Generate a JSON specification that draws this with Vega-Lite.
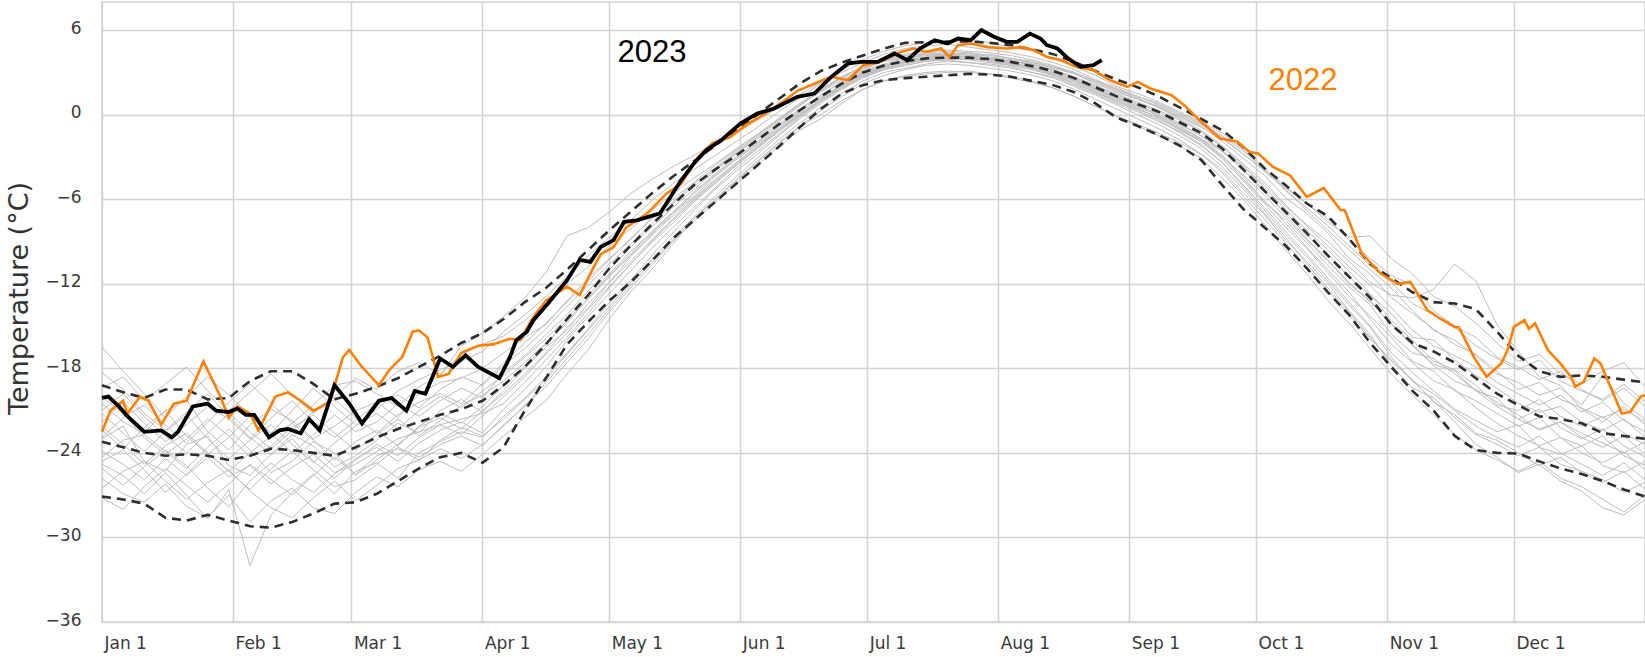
{
"$schema": "https://vega.github.io/schema/vega-lite/v6.json",
"width": 1543,
"height": 620,
"autosize": {"type": "none"},
"padding": {"left": 102, "right": 0, "top": 2, "bottom": 35},
"background": "white",
"config": {
 "view": {"stroke": "#cfcfcf", "strokeWidth": 1.5},
 "axis": {"gridColor": "#d3d3d3", "gridWidth": 1.5, "domain": false, "ticks": false, "labelFont": "DejaVu Sans", "labelFontSize": 17, "labelColor": "#3a3a3a"}
},
"datasets": {
"grey": [
{"s":"g1","d":0,"v":-20.5},{"s":"g1","d":5,"v":-21.8},{"s":"g1","d":10,"v":-22.6},{"s":"g1","d":15,"v":-21.0},{"s":"g1","d":20,"v":-20.2},{"s":"g1","d":25,"v":-22.5},{"s":"g1","d":30,"v":-23.8},{"s":"g1","d":35,"v":-22.0},{"s":"g1","d":40,"v":-20.9},{"s":"g1","d":45,"v":-21.7},{"s":"g1","d":50,"v":-23.0},{"s":"g1","d":55,"v":-22.1},{"s":"g1","d":60,"v":-21.0},{"s":"g1","d":65,"v":-20.4},{"s":"g1","d":70,"v":-21.5},{"s":"g1","d":75,"v":-19.8},{"s":"g1","d":80,"v":-19.0},{"s":"g1","d":85,"v":-18.7},{"s":"g1","d":90,"v":-18.0},{"s":"g1","d":95,"v":-16.9},{"s":"g1","d":100,"v":-15.8},{"s":"g1","d":105,"v":-14.9},{"s":"g1","d":110,"v":-13.2},{"s":"g1","d":115,"v":-11.6},{"s":"g1","d":120,"v":-10.2},{"s":"g1","d":125,"v":-8.9},{"s":"g1","d":130,"v":-7.3},{"s":"g1","d":135,"v":-6.2},{"s":"g1","d":140,"v":-4.9},{"s":"g1","d":145,"v":-3.8},{"s":"g1","d":150,"v":-2.6},{"s":"g1","d":155,"v":-1.5},{"s":"g1","d":160,"v":-0.4},{"s":"g1","d":165,"v":0.7},{"s":"g1","d":170,"v":1.6},{"s":"g1","d":175,"v":2.5},{"s":"g1","d":180,"v":3.2},{"s":"g1","d":185,"v":3.8},{"s":"g1","d":190,"v":4.0},{"s":"g1","d":195,"v":4.3},{"s":"g1","d":200,"v":4.2},{"s":"g1","d":205,"v":4.4},{"s":"g1","d":210,"v":4.1},{"s":"g1","d":215,"v":3.9},{"s":"g1","d":220,"v":3.7},{"s":"g1","d":225,"v":3.3},{"s":"g1","d":230,"v":2.9},{"s":"g1","d":235,"v":2.2},{"s":"g1","d":240,"v":1.6},{"s":"g1","d":245,"v":1.1},{"s":"g1","d":250,"v":0.6},{"s":"g1","d":255,"v":-0.1},{"s":"g1","d":260,"v":-0.8},{"s":"g1","d":265,"v":-1.9},{"s":"g1","d":270,"v":-3.1},{"s":"g1","d":275,"v":-4.3},{"s":"g1","d":280,"v":-5.9},{"s":"g1","d":285,"v":-7.0},{"s":"g1","d":290,"v":-8.4},{"s":"g1","d":295,"v":-10.2},{"s":"g1","d":300,"v":-11.3},{"s":"g1","d":305,"v":-13.0},{"s":"g1","d":310,"v":-14.1},{"s":"g1","d":315,"v":-15.2},{"s":"g1","d":320,"v":-16.3},{"s":"g1","d":325,"v":-17.0},{"s":"g1","d":330,"v":-18.2},{"s":"g1","d":335,"v":-19.5},{"s":"g1","d":340,"v":-19.0},{"s":"g1","d":345,"v":-20.2},{"s":"g1","d":350,"v":-20.8},{"s":"g1","d":355,"v":-21.5},{"s":"g1","d":360,"v":-20.9},{"s":"g1","d":365,"v":-21.8},
{"s":"g2","d":0,"v":-25.8},{"s":"g2","d":5,"v":-26.9},{"s":"g2","d":10,"v":-27.5},{"s":"g2","d":15,"v":-26.2},{"s":"g2","d":20,"v":-27.8},{"s":"g2","d":25,"v":-28.6},{"s":"g2","d":30,"v":-27.0},{"s":"g2","d":35,"v":-28.9},{"s":"g2","d":40,"v":-27.4},{"s":"g2","d":45,"v":-26.5},{"s":"g2","d":50,"v":-27.9},{"s":"g2","d":55,"v":-28.3},{"s":"g2","d":60,"v":-26.8},{"s":"g2","d":65,"v":-25.7},{"s":"g2","d":70,"v":-26.4},{"s":"g2","d":75,"v":-25.2},{"s":"g2","d":80,"v":-24.6},{"s":"g2","d":85,"v":-25.3},{"s":"g2","d":90,"v":-24.1},{"s":"g2","d":95,"v":-22.8},{"s":"g2","d":100,"v":-21.5},{"s":"g2","d":105,"v":-20.3},{"s":"g2","d":110,"v":-18.4},{"s":"g2","d":115,"v":-16.7},{"s":"g2","d":120,"v":-14.5},{"s":"g2","d":125,"v":-12.6},{"s":"g2","d":130,"v":-11.0},{"s":"g2","d":135,"v":-9.2},{"s":"g2","d":140,"v":-7.4},{"s":"g2","d":145,"v":-6.0},{"s":"g2","d":150,"v":-4.6},{"s":"g2","d":155,"v":-3.3},{"s":"g2","d":160,"v":-2.0},{"s":"g2","d":165,"v":-0.8},{"s":"g2","d":170,"v":0.0},{"s":"g2","d":175,"v":1.0},{"s":"g2","d":180,"v":1.8},{"s":"g2","d":185,"v":2.4},{"s":"g2","d":190,"v":2.8},{"s":"g2","d":195,"v":3.0},{"s":"g2","d":200,"v":3.1},{"s":"g2","d":205,"v":3.0},{"s":"g2","d":210,"v":2.9},{"s":"g2","d":215,"v":2.6},{"s":"g2","d":220,"v":2.3},{"s":"g2","d":225,"v":1.9},{"s":"g2","d":230,"v":1.3},{"s":"g2","d":235,"v":0.6},{"s":"g2","d":240,"v":-0.1},{"s":"g2","d":245,"v":-0.7},{"s":"g2","d":250,"v":-1.3},{"s":"g2","d":255,"v":-2.0},{"s":"g2","d":260,"v":-2.8},{"s":"g2","d":265,"v":-3.9},{"s":"g2","d":270,"v":-5.6},{"s":"g2","d":275,"v":-7.1},{"s":"g2","d":280,"v":-8.9},{"s":"g2","d":285,"v":-10.4},{"s":"g2","d":290,"v":-12.0},{"s":"g2","d":295,"v":-13.9},{"s":"g2","d":300,"v":-15.6},{"s":"g2","d":305,"v":-17.8},{"s":"g2","d":310,"v":-19.4},{"s":"g2","d":315,"v":-20.1},{"s":"g2","d":320,"v":-21.5},{"s":"g2","d":325,"v":-22.7},{"s":"g2","d":330,"v":-23.4},{"s":"g2","d":335,"v":-24.2},{"s":"g2","d":340,"v":-23.6},{"s":"g2","d":345,"v":-24.8},{"s":"g2","d":350,"v":-25.3},{"s":"g2","d":355,"v":-25.9},{"s":"g2","d":360,"v":-26.8},{"s":"g2","d":365,"v":-26.1},
{"s":"g3","d":0,"v":-23.0},{"s":"g3","d":5,"v":-22.1},{"s":"g3","d":10,"v":-24.6},{"s":"g3","d":15,"v":-25.3},{"s":"g3","d":20,"v":-23.4},{"s":"g3","d":25,"v":-22.8},{"s":"g3","d":30,"v":-24.9},{"s":"g3","d":35,"v":-25.6},{"s":"g3","d":40,"v":-24.1},{"s":"g3","d":45,"v":-22.7},{"s":"g3","d":50,"v":-23.5},{"s":"g3","d":55,"v":-25.0},{"s":"g3","d":60,"v":-24.2},{"s":"g3","d":65,"v":-23.1},{"s":"g3","d":70,"v":-21.9},{"s":"g3","d":75,"v":-22.6},{"s":"g3","d":80,"v":-21.0},{"s":"g3","d":85,"v":-20.2},{"s":"g3","d":90,"v":-21.1},{"s":"g3","d":95,"v":-19.6},{"s":"g3","d":100,"v":-18.0},{"s":"g3","d":105,"v":-16.5},{"s":"g3","d":110,"v":-15.3},{"s":"g3","d":115,"v":-13.4},{"s":"g3","d":120,"v":-11.9},{"s":"g3","d":125,"v":-10.1},{"s":"g3","d":130,"v":-8.6},{"s":"g3","d":135,"v":-7.0},{"s":"g3","d":140,"v":-5.8},{"s":"g3","d":145,"v":-4.4},{"s":"g3","d":150,"v":-3.2},{"s":"g3","d":155,"v":-2.1},{"s":"g3","d":160,"v":-1.0},{"s":"g3","d":165,"v":0.1},{"s":"g3","d":170,"v":1.0},{"s":"g3","d":175,"v":2.0},{"s":"g3","d":180,"v":2.8},{"s":"g3","d":185,"v":3.3},{"s":"g3","d":190,"v":3.7},{"s":"g3","d":195,"v":3.9},{"s":"g3","d":200,"v":4.1},{"s":"g3","d":205,"v":4.0},{"s":"g3","d":210,"v":3.8},{"s":"g3","d":215,"v":3.6},{"s":"g3","d":220,"v":3.3},{"s":"g3","d":225,"v":2.9},{"s":"g3","d":230,"v":2.4},{"s":"g3","d":235,"v":1.7},{"s":"g3","d":240,"v":1.0},{"s":"g3","d":245,"v":0.4},{"s":"g3","d":250,"v":-0.2},{"s":"g3","d":255,"v":-1.0},{"s":"g3","d":260,"v":-1.8},{"s":"g3","d":265,"v":-2.9},{"s":"g3","d":270,"v":-4.4},{"s":"g3","d":275,"v":-6.2},{"s":"g3","d":280,"v":-7.5},{"s":"g3","d":285,"v":-9.1},{"s":"g3","d":290,"v":-10.7},{"s":"g3","d":295,"v":-12.2},{"s":"g3","d":300,"v":-13.5},{"s":"g3","d":305,"v":-15.6},{"s":"g3","d":310,"v":-16.9},{"s":"g3","d":315,"v":-17.3},{"s":"g3","d":320,"v":-18.4},{"s":"g3","d":325,"v":-19.6},{"s":"g3","d":330,"v":-20.1},{"s":"g3","d":335,"v":-21.6},{"s":"g3","d":340,"v":-22.3},{"s":"g3","d":345,"v":-21.8},{"s":"g3","d":350,"v":-22.9},{"s":"g3","d":355,"v":-23.6},{"s":"g3","d":360,"v":-22.8},{"s":"g3","d":365,"v":-24.1},
{"s":"g4","d":0,"v":-16.5},{"s":"g4","d":5,"v":-18.2},{"s":"g4","d":10,"v":-19.8},{"s":"g4","d":15,"v":-21.5},{"s":"g4","d":20,"v":-20.0},{"s":"g4","d":25,"v":-18.6},{"s":"g4","d":30,"v":-19.9},{"s":"g4","d":35,"v":-21.3},{"s":"g4","d":40,"v":-22.6},{"s":"g4","d":45,"v":-21.0},{"s":"g4","d":50,"v":-19.4},{"s":"g4","d":55,"v":-20.7},{"s":"g4","d":60,"v":-22.0},{"s":"g4","d":65,"v":-20.9},{"s":"g4","d":70,"v":-19.6},{"s":"g4","d":75,"v":-18.8},{"s":"g4","d":80,"v":-18.1},{"s":"g4","d":85,"v":-17.5},{"s":"g4","d":90,"v":-16.8},{"s":"g4","d":95,"v":-15.4},{"s":"g4","d":100,"v":-14.2},{"s":"g4","d":105,"v":-12.9},{"s":"g4","d":110,"v":-11.5},{"s":"g4","d":115,"v":-10.0},{"s":"g4","d":120,"v":-8.7},{"s":"g4","d":125,"v":-7.5},{"s":"g4","d":130,"v":-6.1},{"s":"g4","d":135,"v":-4.9},{"s":"g4","d":140,"v":-3.9},{"s":"g4","d":145,"v":-2.9},{"s":"g4","d":150,"v":-1.9},{"s":"g4","d":155,"v":-0.9},{"s":"g4","d":160,"v":0.2},{"s":"g4","d":165,"v":1.2},{"s":"g4","d":170,"v":2.2},{"s":"g4","d":175,"v":3.2},{"s":"g4","d":180,"v":3.9},{"s":"g4","d":185,"v":4.5},{"s":"g4","d":190,"v":4.9},{"s":"g4","d":195,"v":5.1},{"s":"g4","d":200,"v":5.2},{"s":"g4","d":205,"v":5.4},{"s":"g4","d":210,"v":5.1},{"s":"g4","d":215,"v":4.8},{"s":"g4","d":220,"v":4.5},{"s":"g4","d":225,"v":4.0},{"s":"g4","d":230,"v":3.4},{"s":"g4","d":235,"v":2.8},{"s":"g4","d":240,"v":2.0},{"s":"g4","d":245,"v":1.5},{"s":"g4","d":250,"v":0.9},{"s":"g4","d":255,"v":0.2},{"s":"g4","d":260,"v":-0.5},{"s":"g4","d":265,"v":-1.3},{"s":"g4","d":270,"v":-2.5},{"s":"g4","d":275,"v":-3.8},{"s":"g4","d":280,"v":-5.1},{"s":"g4","d":285,"v":-6.3},{"s":"g4","d":290,"v":-7.6},{"s":"g4","d":295,"v":-8.7},{"s":"g4","d":300,"v":-8.6},{"s":"g4","d":305,"v":-10.2},{"s":"g4","d":310,"v":-11.3},{"s":"g4","d":315,"v":-12.9},{"s":"g4","d":320,"v":-13.6},{"s":"g4","d":325,"v":-14.8},{"s":"g4","d":330,"v":-16.2},{"s":"g4","d":335,"v":-17.5},{"s":"g4","d":340,"v":-17.0},{"s":"g4","d":345,"v":-18.4},{"s":"g4","d":350,"v":-19.1},{"s":"g4","d":355,"v":-18.2},{"s":"g4","d":360,"v":-17.6},{"s":"g4","d":365,"v":-19.3},
{"s":"g5","d":0,"v":-24.8},{"s":"g5","d":5,"v":-25.6},{"s":"g5","d":10,"v":-26.9},{"s":"g5","d":15,"v":-25.4},{"s":"g5","d":20,"v":-27.0},{"s":"g5","d":25,"v":-28.7},{"s":"g5","d":30,"v":-26.6},{"s":"g5","d":35,"v":-32.0},{"s":"g5","d":40,"v":-28.4},{"s":"g5","d":45,"v":-26.8},{"s":"g5","d":50,"v":-25.5},{"s":"g5","d":55,"v":-26.9},{"s":"g5","d":60,"v":-25.3},{"s":"g5","d":65,"v":-24.7},{"s":"g5","d":70,"v":-25.8},{"s":"g5","d":75,"v":-24.0},{"s":"g5","d":80,"v":-23.2},{"s":"g5","d":85,"v":-22.5},{"s":"g5","d":90,"v":-22.9},{"s":"g5","d":95,"v":-21.4},{"s":"g5","d":100,"v":-20.1},{"s":"g5","d":105,"v":-18.6},{"s":"g5","d":110,"v":-16.9},{"s":"g5","d":115,"v":-15.2},{"s":"g5","d":120,"v":-13.3},{"s":"g5","d":125,"v":-11.8},{"s":"g5","d":130,"v":-10.0},{"s":"g5","d":135,"v":-8.4},{"s":"g5","d":140,"v":-6.8},{"s":"g5","d":145,"v":-5.3},{"s":"g5","d":150,"v":-4.0},{"s":"g5","d":155,"v":-2.8},{"s":"g5","d":160,"v":-1.5},{"s":"g5","d":165,"v":-0.3},{"s":"g5","d":170,"v":0.8},{"s":"g5","d":175,"v":1.8},{"s":"g5","d":180,"v":2.6},{"s":"g5","d":185,"v":3.2},{"s":"g5","d":190,"v":3.5},{"s":"g5","d":195,"v":3.8},{"s":"g5","d":200,"v":3.9},{"s":"g5","d":205,"v":3.7},{"s":"g5","d":210,"v":3.6},{"s":"g5","d":215,"v":3.4},{"s":"g5","d":220,"v":3.0},{"s":"g5","d":225,"v":2.7},{"s":"g5","d":230,"v":2.1},{"s":"g5","d":235,"v":1.5},{"s":"g5","d":240,"v":0.8},{"s":"g5","d":245,"v":0.2},{"s":"g5","d":250,"v":-0.5},{"s":"g5","d":255,"v":-1.2},{"s":"g5","d":260,"v":-2.1},{"s":"g5","d":265,"v":-3.4},{"s":"g5","d":270,"v":-5.0},{"s":"g5","d":275,"v":-6.6},{"s":"g5","d":280,"v":-8.3},{"s":"g5","d":285,"v":-9.9},{"s":"g5","d":290,"v":-11.6},{"s":"g5","d":295,"v":-13.3},{"s":"g5","d":300,"v":-15.0},{"s":"g5","d":305,"v":-16.9},{"s":"g5","d":310,"v":-18.3},{"s":"g5","d":315,"v":-19.6},{"s":"g5","d":320,"v":-20.9},{"s":"g5","d":325,"v":-21.7},{"s":"g5","d":330,"v":-22.5},{"s":"g5","d":335,"v":-22.0},{"s":"g5","d":340,"v":-23.6},{"s":"g5","d":345,"v":-24.1},{"s":"g5","d":350,"v":-23.5},{"s":"g5","d":355,"v":-24.9},{"s":"g5","d":360,"v":-25.4},{"s":"g5","d":365,"v":-24.6},
{"s":"g6","d":0,"v":-21.8},{"s":"g6","d":5,"v":-20.4},{"s":"g6","d":10,"v":-21.9},{"s":"g6","d":15,"v":-23.2},{"s":"g6","d":20,"v":-22.0},{"s":"g6","d":25,"v":-20.7},{"s":"g6","d":30,"v":-21.6},{"s":"g6","d":35,"v":-23.0},{"s":"g6","d":40,"v":-21.5},{"s":"g6","d":45,"v":-20.3},{"s":"g6","d":50,"v":-21.8},{"s":"g6","d":55,"v":-22.9},{"s":"g6","d":60,"v":-21.7},{"s":"g6","d":65,"v":-20.5},{"s":"g6","d":70,"v":-19.9},{"s":"g6","d":75,"v":-20.8},{"s":"g6","d":80,"v":-19.5},{"s":"g6","d":85,"v":-18.6},{"s":"g6","d":90,"v":-19.2},{"s":"g6","d":95,"v":-17.8},{"s":"g6","d":100,"v":-16.6},{"s":"g6","d":105,"v":-15.2},{"s":"g6","d":110,"v":-13.6},{"s":"g6","d":115,"v":-12.1},{"s":"g6","d":120,"v":-10.6},{"s":"g6","d":125,"v":-9.2},{"s":"g6","d":130,"v":-7.8},{"s":"g6","d":135,"v":-6.3},{"s":"g6","d":140,"v":-5.1},{"s":"g6","d":145,"v":-3.9},{"s":"g6","d":150,"v":-2.7},{"s":"g6","d":155,"v":-1.6},{"s":"g6","d":160,"v":-0.5},{"s":"g6","d":165,"v":0.6},{"s":"g6","d":170,"v":1.7},{"s":"g6","d":175,"v":2.7},{"s":"g6","d":180,"v":3.4},{"s":"g6","d":185,"v":3.9},{"s":"g6","d":190,"v":4.2},{"s":"g6","d":195,"v":4.3},{"s":"g6","d":200,"v":4.4},{"s":"g6","d":205,"v":4.2},{"s":"g6","d":210,"v":4.3},{"s":"g6","d":215,"v":4.0},{"s":"g6","d":220,"v":3.8},{"s":"g6","d":225,"v":3.4},{"s":"g6","d":230,"v":3.0},{"s":"g6","d":235,"v":2.4},{"s":"g6","d":240,"v":1.8},{"s":"g6","d":245,"v":1.2},{"s":"g6","d":250,"v":0.5},{"s":"g6","d":255,"v":-0.3},{"s":"g6","d":260,"v":-1.1},{"s":"g6","d":265,"v":-2.2},{"s":"g6","d":270,"v":-3.5},{"s":"g6","d":275,"v":-4.8},{"s":"g6","d":280,"v":-6.4},{"s":"g6","d":285,"v":-7.9},{"s":"g6","d":290,"v":-9.3},{"s":"g6","d":295,"v":-10.8},{"s":"g6","d":300,"v":-12.1},{"s":"g6","d":305,"v":-13.7},{"s":"g6","d":310,"v":-15.3},{"s":"g6","d":315,"v":-16.4},{"s":"g6","d":320,"v":-17.1},{"s":"g6","d":325,"v":-17.9},{"s":"g6","d":330,"v":-19.0},{"s":"g6","d":335,"v":-19.8},{"s":"g6","d":340,"v":-20.6},{"s":"g6","d":345,"v":-19.9},{"s":"g6","d":350,"v":-21.1},{"s":"g6","d":355,"v":-20.4},{"s":"g6","d":360,"v":-21.7},{"s":"g6","d":365,"v":-22.5},
{"s":"g7","d":0,"v":-26.5},{"s":"g7","d":5,"v":-25.3},{"s":"g7","d":10,"v":-24.6},{"s":"g7","d":15,"v":-26.0},{"s":"g7","d":20,"v":-27.3},{"s":"g7","d":25,"v":-26.1},{"s":"g7","d":30,"v":-25.2},{"s":"g7","d":35,"v":-26.7},{"s":"g7","d":40,"v":-27.9},{"s":"g7","d":45,"v":-28.6},{"s":"g7","d":50,"v":-27.2},{"s":"g7","d":55,"v":-26.0},{"s":"g7","d":60,"v":-27.4},{"s":"g7","d":65,"v":-26.3},{"s":"g7","d":70,"v":-25.1},{"s":"g7","d":75,"v":-24.5},{"s":"g7","d":80,"v":-23.7},{"s":"g7","d":85,"v":-24.4},{"s":"g7","d":90,"v":-23.4},{"s":"g7","d":95,"v":-22.1},{"s":"g7","d":100,"v":-20.6},{"s":"g7","d":105,"v":-19.3},{"s":"g7","d":110,"v":-17.6},{"s":"g7","d":115,"v":-15.9},{"s":"g7","d":120,"v":-14.0},{"s":"g7","d":125,"v":-12.3},{"s":"g7","d":130,"v":-10.7},{"s":"g7","d":135,"v":-9.0},{"s":"g7","d":140,"v":-7.6},{"s":"g7","d":145,"v":-6.2},{"s":"g7","d":150,"v":-4.9},{"s":"g7","d":155,"v":-3.6},{"s":"g7","d":160,"v":-2.3},{"s":"g7","d":165,"v":-1.1},{"s":"g7","d":170,"v":-0.3},{"s":"g7","d":175,"v":0.8},{"s":"g7","d":180,"v":1.8},{"s":"g7","d":185,"v":2.4},{"s":"g7","d":190,"v":2.7},{"s":"g7","d":195,"v":2.9},{"s":"g7","d":200,"v":3.0},{"s":"g7","d":205,"v":3.1},{"s":"g7","d":210,"v":2.9},{"s":"g7","d":215,"v":2.7},{"s":"g7","d":220,"v":2.4},{"s":"g7","d":225,"v":1.9},{"s":"g7","d":230,"v":1.3},{"s":"g7","d":235,"v":0.6},{"s":"g7","d":240,"v":-0.1},{"s":"g7","d":245,"v":-0.8},{"s":"g7","d":250,"v":-1.5},{"s":"g7","d":255,"v":-2.2},{"s":"g7","d":260,"v":-3.1},{"s":"g7","d":265,"v":-4.5},{"s":"g7","d":270,"v":-6.0},{"s":"g7","d":275,"v":-7.8},{"s":"g7","d":280,"v":-9.6},{"s":"g7","d":285,"v":-11.3},{"s":"g7","d":290,"v":-13.2},{"s":"g7","d":295,"v":-14.8},{"s":"g7","d":300,"v":-16.6},{"s":"g7","d":305,"v":-18.4},{"s":"g7","d":310,"v":-19.9},{"s":"g7","d":315,"v":-21.3},{"s":"g7","d":320,"v":-22.7},{"s":"g7","d":325,"v":-23.8},{"s":"g7","d":330,"v":-24.5},{"s":"g7","d":335,"v":-25.3},{"s":"g7","d":340,"v":-24.6},{"s":"g7","d":345,"v":-25.8},{"s":"g7","d":350,"v":-26.4},{"s":"g7","d":355,"v":-27.3},{"s":"g7","d":360,"v":-28.2},{"s":"g7","d":365,"v":-27.0},
{"s":"g8","d":0,"v":-22.4},{"s":"g8","d":5,"v":-23.7},{"s":"g8","d":10,"v":-22.2},{"s":"g8","d":15,"v":-21.0},{"s":"g8","d":20,"v":-22.8},{"s":"g8","d":25,"v":-24.1},{"s":"g8","d":30,"v":-22.9},{"s":"g8","d":35,"v":-21.4},{"s":"g8","d":40,"v":-22.6},{"s":"g8","d":45,"v":-24.0},{"s":"g8","d":50,"v":-22.7},{"s":"g8","d":55,"v":-21.3},{"s":"g8","d":60,"v":-22.5},{"s":"g8","d":65,"v":-21.8},{"s":"g8","d":70,"v":-20.5},{"s":"g8","d":75,"v":-21.4},{"s":"g8","d":80,"v":-20.3},{"s":"g8","d":85,"v":-19.4},{"s":"g8","d":90,"v":-20.1},{"s":"g8","d":95,"v":-18.3},{"s":"g8","d":100,"v":-17.1},{"s":"g8","d":105,"v":-15.6},{"s":"g8","d":110,"v":-14.2},{"s":"g8","d":115,"v":-12.5},{"s":"g8","d":120,"v":-11.0},{"s":"g8","d":125,"v":-9.4},{"s":"g8","d":130,"v":-8.0},{"s":"g8","d":135,"v":-6.6},{"s":"g8","d":140,"v":-5.3},{"s":"g8","d":145,"v":-4.0},{"s":"g8","d":150,"v":-2.8},{"s":"g8","d":155,"v":-1.7},{"s":"g8","d":160,"v":-0.7},{"s":"g8","d":165,"v":0.4},{"s":"g8","d":170,"v":1.4},{"s":"g8","d":175,"v":2.3},{"s":"g8","d":180,"v":3.0},{"s":"g8","d":185,"v":3.5},{"s":"g8","d":190,"v":3.9},{"s":"g8","d":195,"v":4.1},{"s":"g8","d":200,"v":4.3},{"s":"g8","d":205,"v":4.1},{"s":"g8","d":210,"v":3.9},{"s":"g8","d":215,"v":3.8},{"s":"g8","d":220,"v":3.5},{"s":"g8","d":225,"v":3.2},{"s":"g8","d":230,"v":2.7},{"s":"g8","d":235,"v":2.1},{"s":"g8","d":240,"v":1.4},{"s":"g8","d":245,"v":0.8},{"s":"g8","d":250,"v":0.2},{"s":"g8","d":255,"v":-0.6},{"s":"g8","d":260,"v":-1.5},{"s":"g8","d":265,"v":-2.6},{"s":"g8","d":270,"v":-3.9},{"s":"g8","d":275,"v":-5.5},{"s":"g8","d":280,"v":-6.9},{"s":"g8","d":285,"v":-8.6},{"s":"g8","d":290,"v":-9.9},{"s":"g8","d":295,"v":-11.5},{"s":"g8","d":300,"v":-12.8},{"s":"g8","d":305,"v":-14.1},{"s":"g8","d":310,"v":-15.8},{"s":"g8","d":315,"v":-16.0},{"s":"g8","d":320,"v":-17.4},{"s":"g8","d":325,"v":-18.5},{"s":"g8","d":330,"v":-19.4},{"s":"g8","d":335,"v":-20.5},{"s":"g8","d":340,"v":-21.1},{"s":"g8","d":345,"v":-20.7},{"s":"g8","d":350,"v":-21.8},{"s":"g8","d":355,"v":-22.4},{"s":"g8","d":360,"v":-21.6},{"s":"g8","d":365,"v":-22.9},
{"s":"g9","d":0,"v":-25.1},{"s":"g9","d":5,"v":-26.3},{"s":"g9","d":10,"v":-25.0},{"s":"g9","d":15,"v":-23.8},{"s":"g9","d":20,"v":-24.9},{"s":"g9","d":25,"v":-26.5},{"s":"g9","d":30,"v":-27.8},{"s":"g9","d":35,"v":-26.0},{"s":"g9","d":40,"v":-24.7},{"s":"g9","d":45,"v":-25.9},{"s":"g9","d":50,"v":-26.8},{"s":"g9","d":55,"v":-25.5},{"s":"g9","d":60,"v":-24.4},{"s":"g9","d":65,"v":-23.6},{"s":"g9","d":70,"v":-24.6},{"s":"g9","d":75,"v":-23.3},{"s":"g9","d":80,"v":-22.4},{"s":"g9","d":85,"v":-21.8},{"s":"g9","d":90,"v":-22.6},{"s":"g9","d":95,"v":-20.9},{"s":"g9","d":100,"v":-19.5},{"s":"g9","d":105,"v":-17.9},{"s":"g9","d":110,"v":-16.0},{"s":"g9","d":115,"v":-14.3},{"s":"g9","d":120,"v":-12.7},{"s":"g9","d":125,"v":-11.1},{"s":"g9","d":130,"v":-9.5},{"s":"g9","d":135,"v":-8.0},{"s":"g9","d":140,"v":-6.6},{"s":"g9","d":145,"v":-5.2},{"s":"g9","d":150,"v":-3.8},{"s":"g9","d":155,"v":-2.6},{"s":"g9","d":160,"v":-1.4},{"s":"g9","d":165,"v":-0.2},{"s":"g9","d":170,"v":0.9},{"s":"g9","d":175,"v":1.9},{"s":"g9","d":180,"v":2.7},{"s":"g9","d":185,"v":3.3},{"s":"g9","d":190,"v":3.6},{"s":"g9","d":195,"v":3.9},{"s":"g9","d":200,"v":4.0},{"s":"g9","d":205,"v":4.2},{"s":"g9","d":210,"v":4.0},{"s":"g9","d":215,"v":3.8},{"s":"g9","d":220,"v":3.6},{"s":"g9","d":225,"v":3.2},{"s":"g9","d":230,"v":2.6},{"s":"g9","d":235,"v":2.0},{"s":"g9","d":240,"v":1.3},{"s":"g9","d":245,"v":0.7},{"s":"g9","d":250,"v":0.0},{"s":"g9","d":255,"v":-0.8},{"s":"g9","d":260,"v":-1.7},{"s":"g9","d":265,"v":-2.9},{"s":"g9","d":270,"v":-4.6},{"s":"g9","d":275,"v":-6.1},{"s":"g9","d":280,"v":-7.7},{"s":"g9","d":285,"v":-9.4},{"s":"g9","d":290,"v":-11.0},{"s":"g9","d":295,"v":-12.6},{"s":"g9","d":300,"v":-14.5},{"s":"g9","d":305,"v":-16.3},{"s":"g9","d":310,"v":-17.6},{"s":"g9","d":315,"v":-18.9},{"s":"g9","d":320,"v":-19.5},{"s":"g9","d":325,"v":-20.8},{"s":"g9","d":330,"v":-21.9},{"s":"g9","d":335,"v":-22.8},{"s":"g9","d":340,"v":-23.5},{"s":"g9","d":345,"v":-22.9},{"s":"g9","d":350,"v":-24.0},{"s":"g9","d":355,"v":-24.7},{"s":"g9","d":360,"v":-23.9},{"s":"g9","d":365,"v":-25.2},
{"s":"g10","d":0,"v":-21.2},{"s":"g10","d":5,"v":-22.6},{"s":"g10","d":10,"v":-23.9},{"s":"g10","d":15,"v":-22.5},{"s":"g10","d":20,"v":-21.3},{"s":"g10","d":25,"v":-23.0},{"s":"g10","d":30,"v":-24.4},{"s":"g10","d":35,"v":-23.1},{"s":"g10","d":40,"v":-22.0},{"s":"g10","d":45,"v":-23.4},{"s":"g10","d":50,"v":-24.7},{"s":"g10","d":55,"v":-23.3},{"s":"g10","d":60,"v":-22.1},{"s":"g10","d":65,"v":-21.2},{"s":"g10","d":70,"v":-22.3},{"s":"g10","d":75,"v":-21.0},{"s":"g10","d":80,"v":-20.0},{"s":"g10","d":85,"v":-20.8},{"s":"g10","d":90,"v":-19.6},{"s":"g10","d":95,"v":-18.5},{"s":"g10","d":100,"v":-17.2},{"s":"g10","d":105,"v":-15.9},{"s":"g10","d":110,"v":-14.4},{"s":"g10","d":115,"v":-12.8},{"s":"g10","d":120,"v":-11.3},{"s":"g10","d":125,"v":-9.7},{"s":"g10","d":130,"v":-8.4},{"s":"g10","d":135,"v":-7.0},{"s":"g10","d":140,"v":-5.6},{"s":"g10","d":145,"v":-4.3},{"s":"g10","d":150,"v":-3.1},{"s":"g10","d":155,"v":-2.0},{"s":"g10","d":160,"v":-0.9},{"s":"g10","d":165,"v":0.2},{"s":"g10","d":170,"v":1.2},{"s":"g10","d":175,"v":2.1},{"s":"g10","d":180,"v":2.9},{"s":"g10","d":185,"v":3.4},{"s":"g10","d":190,"v":3.8},{"s":"g10","d":195,"v":4.0},{"s":"g10","d":200,"v":4.2},{"s":"g10","d":205,"v":4.1},{"s":"g10","d":210,"v":3.9},{"s":"g10","d":215,"v":3.7},{"s":"g10","d":220,"v":3.4},{"s":"g10","d":225,"v":3.0},{"s":"g10","d":230,"v":2.5},{"s":"g10","d":235,"v":1.9},{"s":"g10","d":240,"v":1.2},{"s":"g10","d":245,"v":0.6},{"s":"g10","d":250,"v":-0.1},{"s":"g10","d":255,"v":-0.9},{"s":"g10","d":260,"v":-1.7},{"s":"g10","d":265,"v":-2.6},{"s":"g10","d":270,"v":-3.7},{"s":"g10","d":275,"v":-5.0},{"s":"g10","d":280,"v":-6.5},{"s":"g10","d":285,"v":-7.8},{"s":"g10","d":290,"v":-9.0},{"s":"g10","d":295,"v":-10.4},{"s":"g10","d":300,"v":-11.9},{"s":"g10","d":305,"v":-12.8},{"s":"g10","d":310,"v":-13.0},{"s":"g10","d":315,"v":-12.4},{"s":"g10","d":320,"v":-10.6},{"s":"g10","d":325,"v":-11.8},{"s":"g10","d":330,"v":-14.9},{"s":"g10","d":335,"v":-16.8},{"s":"g10","d":340,"v":-18.6},{"s":"g10","d":345,"v":-19.2},{"s":"g10","d":350,"v":-20.9},{"s":"g10","d":355,"v":-21.8},{"s":"g10","d":360,"v":-20.7},{"s":"g10","d":365,"v":-22.0},
{"s":"g11","d":0,"v":-23.9},{"s":"g11","d":5,"v":-24.8},{"s":"g11","d":10,"v":-25.9},{"s":"g11","d":15,"v":-24.4},{"s":"g11","d":20,"v":-25.6},{"s":"g11","d":25,"v":-24.3},{"s":"g11","d":30,"v":-25.7},{"s":"g11","d":35,"v":-24.9},{"s":"g11","d":40,"v":-26.2},{"s":"g11","d":45,"v":-25.0},{"s":"g11","d":50,"v":-24.1},{"s":"g11","d":55,"v":-25.4},{"s":"g11","d":60,"v":-24.8},{"s":"g11","d":65,"v":-23.9},{"s":"g11","d":70,"v":-23.0},{"s":"g11","d":75,"v":-22.5},{"s":"g11","d":80,"v":-22.0},{"s":"g11","d":85,"v":-21.6},{"s":"g11","d":90,"v":-21.2},{"s":"g11","d":95,"v":-20.5},{"s":"g11","d":100,"v":-19.0},{"s":"g11","d":105,"v":-17.4},{"s":"g11","d":110,"v":-15.8},{"s":"g11","d":115,"v":-14.1},{"s":"g11","d":120,"v":-12.3},{"s":"g11","d":125,"v":-10.6},{"s":"g11","d":130,"v":-9.1},{"s":"g11","d":135,"v":-7.7},{"s":"g11","d":140,"v":-6.2},{"s":"g11","d":145,"v":-4.9},{"s":"g11","d":150,"v":-3.6},{"s":"g11","d":155,"v":-2.4},{"s":"g11","d":160,"v":-1.2},{"s":"g11","d":165,"v":-0.1},{"s":"g11","d":170,"v":1.0},{"s":"g11","d":175,"v":1.9},{"s":"g11","d":180,"v":2.7},{"s":"g11","d":185,"v":3.2},{"s":"g11","d":190,"v":3.5},{"s":"g11","d":195,"v":3.8},{"s":"g11","d":200,"v":3.9},{"s":"g11","d":205,"v":4.0},{"s":"g11","d":210,"v":3.8},{"s":"g11","d":215,"v":3.5},{"s":"g11","d":220,"v":3.2},{"s":"g11","d":225,"v":2.8},{"s":"g11","d":230,"v":2.3},{"s":"g11","d":235,"v":1.6},{"s":"g11","d":240,"v":0.9},{"s":"g11","d":245,"v":0.3},{"s":"g11","d":250,"v":-0.4},{"s":"g11","d":255,"v":-1.3},{"s":"g11","d":260,"v":-2.2},{"s":"g11","d":265,"v":-3.4},{"s":"g11","d":270,"v":-5.1},{"s":"g11","d":275,"v":-6.8},{"s":"g11","d":280,"v":-8.5},{"s":"g11","d":285,"v":-10.1},{"s":"g11","d":290,"v":-11.8},{"s":"g11","d":295,"v":-13.5},{"s":"g11","d":300,"v":-15.1},{"s":"g11","d":305,"v":-17.2},{"s":"g11","d":310,"v":-18.9},{"s":"g11","d":315,"v":-20.3},{"s":"g11","d":320,"v":-21.8},{"s":"g11","d":325,"v":-23.4},{"s":"g11","d":330,"v":-24.3},{"s":"g11","d":335,"v":-25.4},{"s":"g11","d":340,"v":-24.8},{"s":"g11","d":345,"v":-26.0},{"s":"g11","d":350,"v":-26.7},{"s":"g11","d":355,"v":-27.9},{"s":"g11","d":360,"v":-28.4},{"s":"g11","d":365,"v":-27.3},
{"s":"g12","d":0,"v":-22.9},{"s":"g12","d":5,"v":-21.5},{"s":"g12","d":10,"v":-20.6},{"s":"g12","d":15,"v":-22.0},{"s":"g12","d":20,"v":-23.3},{"s":"g12","d":25,"v":-21.8},{"s":"g12","d":30,"v":-20.4},{"s":"g12","d":35,"v":-19.1},{"s":"g12","d":40,"v":-20.5},{"s":"g12","d":45,"v":-21.9},{"s":"g12","d":50,"v":-20.6},{"s":"g12","d":55,"v":-19.2},{"s":"g12","d":60,"v":-18.9},{"s":"g12","d":65,"v":-19.8},{"s":"g12","d":70,"v":-20.7},{"s":"g12","d":75,"v":-19.3},{"s":"g12","d":80,"v":-18.5},{"s":"g12","d":85,"v":-16.4},{"s":"g12","d":90,"v":-15.5},{"s":"g12","d":95,"v":-14.3},{"s":"g12","d":100,"v":-13.0},{"s":"g12","d":105,"v":-11.2},{"s":"g12","d":110,"v":-8.6},{"s":"g12","d":115,"v":-8.0},{"s":"g12","d":120,"v":-6.9},{"s":"g12","d":125,"v":-5.6},{"s":"g12","d":130,"v":-4.6},{"s":"g12","d":135,"v":-3.7},{"s":"g12","d":140,"v":-2.9},{"s":"g12","d":145,"v":-2.0},{"s":"g12","d":150,"v":-1.3},{"s":"g12","d":155,"v":-0.4},{"s":"g12","d":160,"v":0.5},{"s":"g12","d":165,"v":1.4},{"s":"g12","d":170,"v":2.3},{"s":"g12","d":175,"v":3.0},{"s":"g12","d":180,"v":3.7},{"s":"g12","d":185,"v":4.3},{"s":"g12","d":190,"v":4.7},{"s":"g12","d":195,"v":4.9},{"s":"g12","d":200,"v":5.0},{"s":"g12","d":205,"v":4.8},{"s":"g12","d":210,"v":4.6},{"s":"g12","d":215,"v":4.4},{"s":"g12","d":220,"v":4.1},{"s":"g12","d":225,"v":3.7},{"s":"g12","d":230,"v":3.2},{"s":"g12","d":235,"v":2.5},{"s":"g12","d":240,"v":1.9},{"s":"g12","d":245,"v":1.3},{"s":"g12","d":250,"v":0.7},{"s":"g12","d":255,"v":0.0},{"s":"g12","d":260,"v":-0.7},{"s":"g12","d":265,"v":-1.6},{"s":"g12","d":270,"v":-2.8},{"s":"g12","d":275,"v":-4.0},{"s":"g12","d":280,"v":-5.3},{"s":"g12","d":285,"v":-6.8},{"s":"g12","d":290,"v":-8.2},{"s":"g12","d":295,"v":-9.6},{"s":"g12","d":300,"v":-11.0},{"s":"g12","d":305,"v":-12.3},{"s":"g12","d":310,"v":-13.9},{"s":"g12","d":315,"v":-15.3},{"s":"g12","d":320,"v":-16.0},{"s":"g12","d":325,"v":-17.1},{"s":"g12","d":330,"v":-18.4},{"s":"g12","d":335,"v":-19.0},{"s":"g12","d":340,"v":-19.9},{"s":"g12","d":345,"v":-19.4},{"s":"g12","d":350,"v":-20.6},{"s":"g12","d":355,"v":-18.5},{"s":"g12","d":360,"v":-20.5},{"s":"g12","d":365,"v":-21.6},
{"s":"g13","d":0,"v":-24.3},{"s":"g13","d":5,"v":-23.1},{"s":"g13","d":10,"v":-22.7},{"s":"g13","d":15,"v":-23.9},{"s":"g13","d":20,"v":-25.1},{"s":"g13","d":25,"v":-23.6},{"s":"g13","d":30,"v":-22.3},{"s":"g13","d":35,"v":-23.8},{"s":"g13","d":40,"v":-25.4},{"s":"g13","d":45,"v":-24.6},{"s":"g13","d":50,"v":-23.2},{"s":"g13","d":55,"v":-24.0},{"s":"g13","d":60,"v":-25.6},{"s":"g13","d":65,"v":-24.5},{"s":"g13","d":70,"v":-23.4},{"s":"g13","d":75,"v":-22.2},{"s":"g13","d":80,"v":-21.5},{"s":"g13","d":85,"v":-22.3},{"s":"g13","d":90,"v":-21.0},{"s":"g13","d":95,"v":-19.8},{"s":"g13","d":100,"v":-18.4},{"s":"g13","d":105,"v":-16.9},{"s":"g13","d":110,"v":-15.1},{"s":"g13","d":115,"v":-13.7},{"s":"g13","d":120,"v":-11.9},{"s":"g13","d":125,"v":-10.4},{"s":"g13","d":130,"v":-8.9},{"s":"g13","d":135,"v":-7.4},{"s":"g13","d":140,"v":-6.0},{"s":"g13","d":145,"v":-4.7},{"s":"g13","d":150,"v":-3.5},{"s":"g13","d":155,"v":-2.3},{"s":"g13","d":160,"v":-1.1},{"s":"g13","d":165,"v":0.0},{"s":"g13","d":170,"v":1.1},{"s":"g13","d":175,"v":2.1},{"s":"g13","d":180,"v":2.9},{"s":"g13","d":185,"v":3.4},{"s":"g13","d":190,"v":3.8},{"s":"g13","d":195,"v":4.0},{"s":"g13","d":200,"v":4.1},{"s":"g13","d":205,"v":3.9},{"s":"g13","d":210,"v":4.0},{"s":"g13","d":215,"v":3.7},{"s":"g13","d":220,"v":3.3},{"s":"g13","d":225,"v":2.9},{"s":"g13","d":230,"v":2.4},{"s":"g13","d":235,"v":1.8},{"s":"g13","d":240,"v":1.1},{"s":"g13","d":245,"v":0.5},{"s":"g13","d":250,"v":-0.3},{"s":"g13","d":255,"v":-1.1},{"s":"g13","d":260,"v":-1.9},{"s":"g13","d":265,"v":-3.1},{"s":"g13","d":270,"v":-4.7},{"s":"g13","d":275,"v":-6.3},{"s":"g13","d":280,"v":-8.0},{"s":"g13","d":285,"v":-9.5},{"s":"g13","d":290,"v":-11.2},{"s":"g13","d":295,"v":-12.9},{"s":"g13","d":300,"v":-14.3},{"s":"g13","d":305,"v":-15.8},{"s":"g13","d":310,"v":-17.5},{"s":"g13","d":315,"v":-18.2},{"s":"g13","d":320,"v":-19.6},{"s":"g13","d":325,"v":-20.3},{"s":"g13","d":330,"v":-21.2},{"s":"g13","d":335,"v":-22.1},{"s":"g13","d":340,"v":-21.5},{"s":"g13","d":345,"v":-22.9},{"s":"g13","d":350,"v":-23.5},{"s":"g13","d":355,"v":-22.8},{"s":"g13","d":360,"v":-24.2},{"s":"g13","d":365,"v":-24.9},
{"s":"g14","d":0,"v":-20.0},{"s":"g14","d":5,"v":-21.2},{"s":"g14","d":10,"v":-22.9},{"s":"g14","d":15,"v":-24.1},{"s":"g14","d":20,"v":-23.0},{"s":"g14","d":25,"v":-21.6},{"s":"g14","d":30,"v":-22.8},{"s":"g14","d":35,"v":-24.3},{"s":"g14","d":40,"v":-23.5},{"s":"g14","d":45,"v":-22.2},{"s":"g14","d":50,"v":-21.3},{"s":"g14","d":55,"v":-22.6},{"s":"g14","d":60,"v":-23.8},{"s":"g14","d":65,"v":-22.7},{"s":"g14","d":70,"v":-21.6},{"s":"g14","d":75,"v":-22.8},{"s":"g14","d":80,"v":-21.7},{"s":"g14","d":85,"v":-20.6},{"s":"g14","d":90,"v":-19.9},{"s":"g14","d":95,"v":-18.9},{"s":"g14","d":100,"v":-17.6},{"s":"g14","d":105,"v":-16.2},{"s":"g14","d":110,"v":-14.8},{"s":"g14","d":115,"v":-13.0},{"s":"g14","d":120,"v":-11.4},{"s":"g14","d":125,"v":-9.9},{"s":"g14","d":130,"v":-8.3},{"s":"g14","d":135,"v":-6.9},{"s":"g14","d":140,"v":-5.5},{"s":"g14","d":145,"v":-4.2},{"s":"g14","d":150,"v":-3.0},{"s":"g14","d":155,"v":-1.9},{"s":"g14","d":160,"v":-0.8},{"s":"g14","d":165,"v":0.3},{"s":"g14","d":170,"v":1.3},{"s":"g14","d":175,"v":2.4},{"s":"g14","d":180,"v":3.1},{"s":"g14","d":185,"v":3.6},{"s":"g14","d":190,"v":4.0},{"s":"g14","d":195,"v":4.2},{"s":"g14","d":200,"v":4.3},{"s":"g14","d":205,"v":4.3},{"s":"g14","d":210,"v":4.0},{"s":"g14","d":215,"v":3.8},{"s":"g14","d":220,"v":3.6},{"s":"g14","d":225,"v":3.1},{"s":"g14","d":230,"v":2.6},{"s":"g14","d":235,"v":2.0},{"s":"g14","d":240,"v":1.5},{"s":"g14","d":245,"v":0.9},{"s":"g14","d":250,"v":0.3},{"s":"g14","d":255,"v":-0.4},{"s":"g14","d":260,"v":-1.2},{"s":"g14","d":265,"v":-2.3},{"s":"g14","d":270,"v":-3.6},{"s":"g14","d":275,"v":-5.2},{"s":"g14","d":280,"v":-6.7},{"s":"g14","d":285,"v":-8.2},{"s":"g14","d":290,"v":-9.6},{"s":"g14","d":295,"v":-11.1},{"s":"g14","d":300,"v":-12.7},{"s":"g14","d":305,"v":-14.6},{"s":"g14","d":310,"v":-16.0},{"s":"g14","d":315,"v":-17.5},{"s":"g14","d":320,"v":-18.1},{"s":"g14","d":325,"v":-19.2},{"s":"g14","d":330,"v":-20.6},{"s":"g14","d":335,"v":-21.0},{"s":"g14","d":340,"v":-20.2},{"s":"g14","d":345,"v":-21.4},{"s":"g14","d":350,"v":-22.1},{"s":"g14","d":355,"v":-21.4},{"s":"g14","d":360,"v":-22.6},{"s":"g14","d":365,"v":-23.4},
{"s":"g15","d":0,"v":-19.4},{"s":"g15","d":5,"v":-18.6},{"s":"g15","d":10,"v":-20.3},{"s":"g15","d":15,"v":-19.1},{"s":"g15","d":20,"v":-17.9},{"s":"g15","d":25,"v":-19.6},{"s":"g15","d":30,"v":-21.0},{"s":"g15","d":35,"v":-19.7},{"s":"g15","d":40,"v":-18.4},{"s":"g15","d":45,"v":-19.9},{"s":"g15","d":50,"v":-21.2},{"s":"g15","d":55,"v":-20.0},{"s":"g15","d":60,"v":-18.7},{"s":"g15","d":65,"v":-19.5},{"s":"g15","d":70,"v":-18.2},{"s":"g15","d":75,"v":-17.6},{"s":"g15","d":80,"v":-18.4},{"s":"g15","d":85,"v":-17.0},{"s":"g15","d":90,"v":-16.3},{"s":"g15","d":95,"v":-15.7},{"s":"g15","d":100,"v":-14.6},{"s":"g15","d":105,"v":-13.4},{"s":"g15","d":110,"v":-12.0},{"s":"g15","d":115,"v":-10.8},{"s":"g15","d":120,"v":-9.3},{"s":"g15","d":125,"v":-8.1},{"s":"g15","d":130,"v":-6.8},{"s":"g15","d":135,"v":-5.6},{"s":"g15","d":140,"v":-4.5},{"s":"g15","d":145,"v":-3.5},{"s":"g15","d":150,"v":-2.4},{"s":"g15","d":155,"v":-1.4},{"s":"g15","d":160,"v":-0.3},{"s":"g15","d":165,"v":0.8},{"s":"g15","d":170,"v":1.8},{"s":"g15","d":175,"v":2.7},{"s":"g15","d":180,"v":3.4},{"s":"g15","d":185,"v":3.9},{"s":"g15","d":190,"v":4.3},{"s":"g15","d":195,"v":4.5},{"s":"g15","d":200,"v":4.6},{"s":"g15","d":205,"v":4.5},{"s":"g15","d":210,"v":4.4},{"s":"g15","d":215,"v":4.2},{"s":"g15","d":220,"v":3.9},{"s":"g15","d":225,"v":3.5},{"s":"g15","d":230,"v":3.0},{"s":"g15","d":235,"v":2.4},{"s":"g15","d":240,"v":1.8},{"s":"g15","d":245,"v":1.3},{"s":"g15","d":250,"v":0.8},{"s":"g15","d":255,"v":0.1},{"s":"g15","d":260,"v":-0.6},{"s":"g15","d":265,"v":-1.5},{"s":"g15","d":270,"v":-2.6},{"s":"g15","d":275,"v":-3.9},{"s":"g15","d":280,"v":-5.4},{"s":"g15","d":285,"v":-6.6},{"s":"g15","d":290,"v":-7.9},{"s":"g15","d":295,"v":-9.3},{"s":"g15","d":300,"v":-10.7},{"s":"g15","d":305,"v":-11.9},{"s":"g15","d":310,"v":-13.4},{"s":"g15","d":315,"v":-14.2},{"s":"g15","d":320,"v":-15.1},{"s":"g15","d":325,"v":-16.4},{"s":"g15","d":330,"v":-17.3},{"s":"g15","d":335,"v":-18.1},{"s":"g15","d":340,"v":-17.4},{"s":"g15","d":345,"v":-18.9},{"s":"g15","d":350,"v":-19.6},{"s":"g15","d":355,"v":-20.2},{"s":"g15","d":360,"v":-19.1},{"s":"g15","d":365,"v":-20.4},
{"s":"g16","d":0,"v":-22.1},{"s":"g16","d":5,"v":-23.4},{"s":"g16","d":10,"v":-24.8},{"s":"g16","d":15,"v":-23.5},{"s":"g16","d":20,"v":-22.6},{"s":"g16","d":25,"v":-24.0},{"s":"g16","d":30,"v":-25.3},{"s":"g16","d":35,"v":-24.0},{"s":"g16","d":40,"v":-22.8},{"s":"g16","d":45,"v":-21.9},{"s":"g16","d":50,"v":-23.1},{"s":"g16","d":55,"v":-24.5},{"s":"g16","d":60,"v":-23.2},{"s":"g16","d":65,"v":-22.4},{"s":"g16","d":70,"v":-23.5},{"s":"g16","d":75,"v":-22.1},{"s":"g16","d":80,"v":-21.2},{"s":"g16","d":85,"v":-21.9},{"s":"g16","d":90,"v":-20.7},{"s":"g16","d":95,"v":-19.2},{"s":"g16","d":100,"v":-17.9},{"s":"g16","d":105,"v":-16.3},{"s":"g16","d":110,"v":-14.6},{"s":"g16","d":115,"v":-13.1},{"s":"g16","d":120,"v":-11.5},{"s":"g16","d":125,"v":-10.0},{"s":"g16","d":130,"v":-8.5},{"s":"g16","d":135,"v":-7.2},{"s":"g16","d":140,"v":-5.9},{"s":"g16","d":145,"v":-4.6},{"s":"g16","d":150,"v":-3.4},{"s":"g16","d":155,"v":-2.2},{"s":"g16","d":160,"v":-1.1},{"s":"g16","d":165,"v":0.0},{"s":"g16","d":170,"v":1.1},{"s":"g16","d":175,"v":2.2},{"s":"g16","d":180,"v":3.0},{"s":"g16","d":185,"v":3.5},{"s":"g16","d":190,"v":3.8},{"s":"g16","d":195,"v":4.1},{"s":"g16","d":200,"v":4.2},{"s":"g16","d":205,"v":4.1},{"s":"g16","d":210,"v":3.9},{"s":"g16","d":215,"v":3.6},{"s":"g16","d":220,"v":3.4},{"s":"g16","d":225,"v":3.0},{"s":"g16","d":230,"v":2.5},{"s":"g16","d":235,"v":1.8},{"s":"g16","d":240,"v":1.2},{"s":"g16","d":245,"v":0.6},{"s":"g16","d":250,"v":0.0},{"s":"g16","d":255,"v":-0.7},{"s":"g16","d":260,"v":-1.5},{"s":"g16","d":265,"v":-2.5},{"s":"g16","d":270,"v":-3.9},{"s":"g16","d":275,"v":-5.4},{"s":"g16","d":280,"v":-7.1},{"s":"g16","d":285,"v":-8.8},{"s":"g16","d":290,"v":-10.3},{"s":"g16","d":295,"v":-11.9},{"s":"g16","d":300,"v":-13.2},{"s":"g16","d":305,"v":-14.9},{"s":"g16","d":310,"v":-16.4},{"s":"g16","d":315,"v":-17.8},{"s":"g16","d":320,"v":-18.9},{"s":"g16","d":325,"v":-19.5},{"s":"g16","d":330,"v":-20.4},{"s":"g16","d":335,"v":-21.3},{"s":"g16","d":340,"v":-22.4},{"s":"g16","d":345,"v":-21.8},{"s":"g16","d":350,"v":-22.6},{"s":"g16","d":355,"v":-23.3},{"s":"g16","d":360,"v":-24.0},{"s":"g16","d":365,"v":-23.2},
{"s":"g17","d":0,"v":-27.2},{"s":"g17","d":5,"v":-28.0},{"s":"g17","d":10,"v":-26.4},{"s":"g17","d":15,"v":-25.1},{"s":"g17","d":20,"v":-26.3},{"s":"g17","d":25,"v":-27.5},{"s":"g17","d":30,"v":-26.2},{"s":"g17","d":35,"v":-24.8},{"s":"g17","d":40,"v":-25.9},{"s":"g17","d":45,"v":-27.0},{"s":"g17","d":50,"v":-25.6},{"s":"g17","d":55,"v":-24.3},{"s":"g17","d":60,"v":-25.5},{"s":"g17","d":65,"v":-24.2},{"s":"g17","d":70,"v":-23.7},{"s":"g17","d":75,"v":-24.5},{"s":"g17","d":80,"v":-23.1},{"s":"g17","d":85,"v":-22.2},{"s":"g17","d":90,"v":-22.8},{"s":"g17","d":95,"v":-21.6},{"s":"g17","d":100,"v":-20.2},{"s":"g17","d":105,"v":-18.8},{"s":"g17","d":110,"v":-17.0},{"s":"g17","d":115,"v":-15.3},{"s":"g17","d":120,"v":-13.6},{"s":"g17","d":125,"v":-11.9},{"s":"g17","d":130,"v":-10.3},{"s":"g17","d":135,"v":-8.7},{"s":"g17","d":140,"v":-7.3},{"s":"g17","d":145,"v":-5.8},{"s":"g17","d":150,"v":-4.4},{"s":"g17","d":155,"v":-3.1},{"s":"g17","d":160,"v":-1.8},{"s":"g17","d":165,"v":-0.6},{"s":"g17","d":170,"v":0.5},{"s":"g17","d":175,"v":1.5},{"s":"g17","d":180,"v":2.4},{"s":"g17","d":185,"v":3.0},{"s":"g17","d":190,"v":3.3},{"s":"g17","d":195,"v":3.6},{"s":"g17","d":200,"v":3.8},{"s":"g17","d":205,"v":3.7},{"s":"g17","d":210,"v":3.5},{"s":"g17","d":215,"v":3.3},{"s":"g17","d":220,"v":3.0},{"s":"g17","d":225,"v":2.6},{"s":"g17","d":230,"v":2.0},{"s":"g17","d":235,"v":1.4},{"s":"g17","d":240,"v":0.7},{"s":"g17","d":245,"v":0.0},{"s":"g17","d":250,"v":-0.7},{"s":"g17","d":255,"v":-1.5},{"s":"g17","d":260,"v":-2.4},{"s":"g17","d":265,"v":-3.7},{"s":"g17","d":270,"v":-5.3},{"s":"g17","d":275,"v":-7.0},{"s":"g17","d":280,"v":-8.7},{"s":"g17","d":285,"v":-10.6},{"s":"g17","d":290,"v":-12.3},{"s":"g17","d":295,"v":-14.0},{"s":"g17","d":300,"v":-15.8},{"s":"g17","d":305,"v":-17.5},{"s":"g17","d":310,"v":-18.8},{"s":"g17","d":315,"v":-20.4},{"s":"g17","d":320,"v":-21.3},{"s":"g17","d":325,"v":-22.6},{"s":"g17","d":330,"v":-23.1},{"s":"g17","d":335,"v":-24.0},{"s":"g17","d":340,"v":-24.9},{"s":"g17","d":345,"v":-24.3},{"s":"g17","d":350,"v":-25.4},{"s":"g17","d":355,"v":-26.1},{"s":"g17","d":360,"v":-25.3},{"s":"g17","d":365,"v":-26.6},
{"s":"g18","d":0,"v":-18.3},{"s":"g18","d":5,"v":-19.5},{"s":"g18","d":10,"v":-21.2},{"s":"g18","d":15,"v":-22.4},{"s":"g18","d":20,"v":-21.1},{"s":"g18","d":25,"v":-19.8},{"s":"g18","d":30,"v":-21.4},{"s":"g18","d":35,"v":-22.9},{"s":"g18","d":40,"v":-24.1},{"s":"g18","d":45,"v":-23.0},{"s":"g18","d":50,"v":-24.6},{"s":"g18","d":55,"v":-25.8},{"s":"g18","d":60,"v":-24.5},{"s":"g18","d":65,"v":-23.4},{"s":"g18","d":70,"v":-24.2},{"s":"g18","d":75,"v":-22.9},{"s":"g18","d":80,"v":-22.0},{"s":"g18","d":85,"v":-22.7},{"s":"g18","d":90,"v":-21.4},{"s":"g18","d":95,"v":-20.0},{"s":"g18","d":100,"v":-18.6},{"s":"g18","d":105,"v":-17.0},{"s":"g18","d":110,"v":-15.5},{"s":"g18","d":115,"v":-13.8},{"s":"g18","d":120,"v":-12.2},{"s":"g18","d":125,"v":-10.6},{"s":"g18","d":130,"v":-9.0},{"s":"g18","d":135,"v":-7.5},{"s":"g18","d":140,"v":-6.1},{"s":"g18","d":145,"v":-4.8},{"s":"g18","d":150,"v":-3.6},{"s":"g18","d":155,"v":-2.4},{"s":"g18","d":160,"v":-1.2},{"s":"g18","d":165,"v":-0.1},{"s":"g18","d":170,"v":1.0},{"s":"g18","d":175,"v":2.0},{"s":"g18","d":180,"v":2.8},{"s":"g18","d":185,"v":3.3},{"s":"g18","d":190,"v":3.7},{"s":"g18","d":195,"v":3.9},{"s":"g18","d":200,"v":4.0},{"s":"g18","d":205,"v":3.9},{"s":"g18","d":210,"v":3.7},{"s":"g18","d":215,"v":3.5},{"s":"g18","d":220,"v":3.2},{"s":"g18","d":225,"v":2.8},{"s":"g18","d":230,"v":2.2},{"s":"g18","d":235,"v":1.6},{"s":"g18","d":240,"v":1.0},{"s":"g18","d":245,"v":0.4},{"s":"g18","d":250,"v":-0.2},{"s":"g18","d":255,"v":-1.0},{"s":"g18","d":260,"v":-1.9},{"s":"g18","d":265,"v":-3.0},{"s":"g18","d":270,"v":-4.3},{"s":"g18","d":275,"v":-5.7},{"s":"g18","d":280,"v":-7.3},{"s":"g18","d":285,"v":-8.9},{"s":"g18","d":290,"v":-10.4},{"s":"g18","d":295,"v":-12.0},{"s":"g18","d":300,"v":-13.3},{"s":"g18","d":305,"v":-14.8},{"s":"g18","d":310,"v":-16.3},{"s":"g18","d":315,"v":-17.7},{"s":"g18","d":320,"v":-18.2},{"s":"g18","d":325,"v":-19.6},{"s":"g18","d":330,"v":-20.7},{"s":"g18","d":335,"v":-21.6},{"s":"g18","d":340,"v":-20.9},{"s":"g18","d":345,"v":-22.2},{"s":"g18","d":350,"v":-23.0},{"s":"g18","d":355,"v":-22.3},{"s":"g18","d":360,"v":-23.5},{"s":"g18","d":365,"v":-24.3},
{"s":"g19","d":0,"v":-24.6},{"s":"g19","d":5,"v":-23.8},{"s":"g19","d":10,"v":-25.2},{"s":"g19","d":15,"v":-26.8},{"s":"g19","d":20,"v":-25.5},{"s":"g19","d":25,"v":-24.0},{"s":"g19","d":30,"v":-25.3},{"s":"g19","d":35,"v":-26.6},{"s":"g19","d":40,"v":-25.1},{"s":"g19","d":45,"v":-23.9},{"s":"g19","d":50,"v":-25.2},{"s":"g19","d":55,"v":-26.4},{"s":"g19","d":60,"v":-25.9},{"s":"g19","d":65,"v":-24.8},{"s":"g19","d":70,"v":-23.6},{"s":"g19","d":75,"v":-24.3},{"s":"g19","d":80,"v":-23.4},{"s":"g19","d":85,"v":-22.8},{"s":"g19","d":90,"v":-23.5},{"s":"g19","d":95,"v":-22.0},{"s":"g19","d":100,"v":-20.7},{"s":"g19","d":105,"v":-19.0},{"s":"g19","d":110,"v":-17.3},{"s":"g19","d":115,"v":-15.6},{"s":"g19","d":120,"v":-13.8},{"s":"g19","d":125,"v":-12.1},{"s":"g19","d":130,"v":-10.5},{"s":"g19","d":135,"v":-8.9},{"s":"g19","d":140,"v":-7.4},{"s":"g19","d":145,"v":-6.0},{"s":"g19","d":150,"v":-4.7},{"s":"g19","d":155,"v":-3.4},{"s":"g19","d":160,"v":-2.1},{"s":"g19","d":165,"v":-0.9},{"s":"g19","d":170,"v":0.3},{"s":"g19","d":175,"v":1.3},{"s":"g19","d":180,"v":2.2},{"s":"g19","d":185,"v":2.8},{"s":"g19","d":190,"v":3.2},{"s":"g19","d":195,"v":3.5},{"s":"g19","d":200,"v":3.6},{"s":"g19","d":205,"v":3.5},{"s":"g19","d":210,"v":3.3},{"s":"g19","d":215,"v":3.1},{"s":"g19","d":220,"v":2.8},{"s":"g19","d":225,"v":2.4},{"s":"g19","d":230,"v":1.8},{"s":"g19","d":235,"v":1.1},{"s":"g19","d":240,"v":0.4},{"s":"g19","d":245,"v":-0.3},{"s":"g19","d":250,"v":-1.0},{"s":"g19","d":255,"v":-1.8},{"s":"g19","d":260,"v":-2.8},{"s":"g19","d":265,"v":-4.1},{"s":"g19","d":270,"v":-5.8},{"s":"g19","d":275,"v":-7.4},{"s":"g19","d":280,"v":-9.1},{"s":"g19","d":285,"v":-10.8},{"s":"g19","d":290,"v":-12.5},{"s":"g19","d":295,"v":-14.2},{"s":"g19","d":300,"v":-15.9},{"s":"g19","d":305,"v":-17.4},{"s":"g19","d":310,"v":-18.9},{"s":"g19","d":315,"v":-19.8},{"s":"g19","d":320,"v":-21.0},{"s":"g19","d":325,"v":-22.1},{"s":"g19","d":330,"v":-22.9},{"s":"g19","d":335,"v":-23.6},{"s":"g19","d":340,"v":-22.8},{"s":"g19","d":345,"v":-24.0},{"s":"g19","d":350,"v":-24.8},{"s":"g19","d":355,"v":-25.6},{"s":"g19","d":360,"v":-24.7},{"s":"g19","d":365,"v":-25.9},
{"s":"g20","d":0,"v":-21.0},{"s":"g20","d":5,"v":-19.8},{"s":"g20","d":10,"v":-21.4},{"s":"g20","d":15,"v":-22.8},{"s":"g20","d":20,"v":-24.0},{"s":"g20","d":25,"v":-22.6},{"s":"g20","d":30,"v":-21.2},{"s":"g20","d":35,"v":-22.5},{"s":"g20","d":40,"v":-23.7},{"s":"g20","d":45,"v":-22.4},{"s":"g20","d":50,"v":-21.1},{"s":"g20","d":55,"v":-20.2},{"s":"g20","d":60,"v":-21.5},{"s":"g20","d":65,"v":-22.6},{"s":"g20","d":70,"v":-21.3},{"s":"g20","d":75,"v":-20.4},{"s":"g20","d":80,"v":-19.8},{"s":"g20","d":85,"v":-20.5},{"s":"g20","d":90,"v":-19.1},{"s":"g20","d":95,"v":-17.6},{"s":"g20","d":100,"v":-16.2},{"s":"g20","d":105,"v":-14.8},{"s":"g20","d":110,"v":-13.3},{"s":"g20","d":115,"v":-11.8},{"s":"g20","d":120,"v":-10.3},{"s":"g20","d":125,"v":-8.8},{"s":"g20","d":130,"v":-7.4},{"s":"g20","d":135,"v":-6.0},{"s":"g20","d":140,"v":-4.8},{"s":"g20","d":145,"v":-3.6},{"s":"g20","d":150,"v":-2.5},{"s":"g20","d":155,"v":-1.4},{"s":"g20","d":160,"v":-0.3},{"s":"g20","d":165,"v":0.7},{"s":"g20","d":170,"v":1.7},{"s":"g20","d":175,"v":2.6},{"s":"g20","d":180,"v":3.3},{"s":"g20","d":185,"v":3.8},{"s":"g20","d":190,"v":4.1},{"s":"g20","d":195,"v":4.4},{"s":"g20","d":200,"v":4.5},{"s":"g20","d":205,"v":4.4},{"s":"g20","d":210,"v":4.2},{"s":"g20","d":215,"v":4.0},{"s":"g20","d":220,"v":3.7},{"s":"g20","d":225,"v":3.4},{"s":"g20","d":230,"v":2.9},{"s":"g20","d":235,"v":2.3},{"s":"g20","d":240,"v":1.7},{"s":"g20","d":245,"v":1.1},{"s":"g20","d":250,"v":0.5},{"s":"g20","d":255,"v":-0.2},{"s":"g20","d":260,"v":-0.9},{"s":"g20","d":265,"v":-1.7},{"s":"g20","d":270,"v":-2.8},{"s":"g20","d":275,"v":-4.0},{"s":"g20","d":280,"v":-5.2},{"s":"g20","d":285,"v":-6.3},{"s":"g20","d":290,"v":-7.4},{"s":"g20","d":295,"v":-8.9},{"s":"g20","d":300,"v":-10.2},{"s":"g20","d":305,"v":-11.4},{"s":"g20","d":310,"v":-12.1},{"s":"g20","d":315,"v":-13.9},{"s":"g20","d":320,"v":-15.0},{"s":"g20","d":325,"v":-15.8},{"s":"g20","d":330,"v":-17.2},{"s":"g20","d":335,"v":-17.9},{"s":"g20","d":340,"v":-18.8},{"s":"g20","d":345,"v":-18.2},{"s":"g20","d":350,"v":-19.5},{"s":"g20","d":355,"v":-20.3},{"s":"g20","d":360,"v":-19.4},{"s":"g20","d":365,"v":-20.7}
],
"clim": [
{"s":"upper","d":0,"v":-19.2},{"s":"upper","d":5,"v":-19.7},{"s":"upper","d":10,"v":-20.1},{"s":"upper","d":15,"v":-19.5},{"s":"upper","d":20,"v":-19.5},{"s":"upper","d":25,"v":-20.2},{"s":"upper","d":30,"v":-20.1},{"s":"upper","d":35,"v":-18.9},{"s":"upper","d":40,"v":-18.2},{"s":"upper","d":45,"v":-18.2},{"s":"upper","d":50,"v":-19.1},{"s":"upper","d":55,"v":-20.2},{"s":"upper","d":60,"v":-19.8},{"s":"upper","d":65,"v":-19.3},{"s":"upper","d":70,"v":-18.7},{"s":"upper","d":75,"v":-17.9},{"s":"upper","d":80,"v":-17.1},{"s":"upper","d":85,"v":-16.2},{"s":"upper","d":90,"v":-15.5},{"s":"upper","d":95,"v":-14.5},{"s":"upper","d":100,"v":-13.3},{"s":"upper","d":105,"v":-12.3},{"s":"upper","d":110,"v":-11.0},{"s":"upper","d":115,"v":-9.6},{"s":"upper","d":120,"v":-8.2},{"s":"upper","d":125,"v":-6.9},{"s":"upper","d":130,"v":-5.6},{"s":"upper","d":135,"v":-4.4},{"s":"upper","d":140,"v":-3.3},{"s":"upper","d":145,"v":-2.2},{"s":"upper","d":150,"v":-1.1},{"s":"upper","d":155,"v":0.0},{"s":"upper","d":160,"v":1.1},{"s":"upper","d":165,"v":2.2},{"s":"upper","d":170,"v":3.1},{"s":"upper","d":175,"v":3.7},{"s":"upper","d":180,"v":4.2},{"s":"upper","d":185,"v":4.7},{"s":"upper","d":190,"v":5.1},{"s":"upper","d":195,"v":5.15},{"s":"upper","d":200,"v":5.2},{"s":"upper","d":205,"v":5.2},{"s":"upper","d":210,"v":5.1},{"s":"upper","d":215,"v":4.95},{"s":"upper","d":220,"v":4.65},{"s":"upper","d":225,"v":4.3},{"s":"upper","d":230,"v":3.75},{"s":"upper","d":235,"v":3.1},{"s":"upper","d":240,"v":2.5},{"s":"upper","d":245,"v":1.95},{"s":"upper","d":250,"v":1.3},{"s":"upper","d":255,"v":0.5},{"s":"upper","d":260,"v":-0.3},{"s":"upper","d":265,"v":-1.1},{"s":"upper","d":270,"v":-2.3},{"s":"upper","d":275,"v":-3.8},{"s":"upper","d":280,"v":-5.0},{"s":"upper","d":285,"v":-6.3},{"s":"upper","d":290,"v":-7.2},{"s":"upper","d":295,"v":-8.8},{"s":"upper","d":300,"v":-10.6},{"s":"upper","d":305,"v":-11.6},{"s":"upper","d":310,"v":-12.6},{"s":"upper","d":315,"v":-13.3},{"s":"upper","d":320,"v":-13.4},{"s":"upper","d":325,"v":-13.8},{"s":"upper","d":330,"v":-15.4},{"s":"upper","d":335,"v":-17.1},{"s":"upper","d":340,"v":-18.2},{"s":"upper","d":345,"v":-18.6},{"s":"upper","d":350,"v":-18.5},{"s":"upper","d":355,"v":-18.6},{"s":"upper","d":360,"v":-18.8},{"s":"upper","d":365,"v":-19.0},
{"s":"mean","d":0,"v":-23.2},{"s":"mean","d":5,"v":-23.6},{"s":"mean","d":10,"v":-24.0},{"s":"mean","d":15,"v":-24.2},{"s":"mean","d":20,"v":-24.1},{"s":"mean","d":25,"v":-24.2},{"s":"mean","d":30,"v":-24.5},{"s":"mean","d":35,"v":-24.2},{"s":"mean","d":40,"v":-23.7},{"s":"mean","d":45,"v":-23.8},{"s":"mean","d":50,"v":-24.0},{"s":"mean","d":55,"v":-24.2},{"s":"mean","d":60,"v":-23.6},{"s":"mean","d":65,"v":-22.9},{"s":"mean","d":70,"v":-22.3},{"s":"mean","d":75,"v":-21.8},{"s":"mean","d":80,"v":-21.3},{"s":"mean","d":85,"v":-20.9},{"s":"mean","d":90,"v":-20.3},{"s":"mean","d":95,"v":-19.2},{"s":"mean","d":100,"v":-17.9},{"s":"mean","d":105,"v":-16.3},{"s":"mean","d":110,"v":-14.5},{"s":"mean","d":115,"v":-12.8},{"s":"mean","d":120,"v":-10.9},{"s":"mean","d":125,"v":-9.3},{"s":"mean","d":130,"v":-7.8},{"s":"mean","d":135,"v":-6.4},{"s":"mean","d":140,"v":-5.0},{"s":"mean","d":145,"v":-3.9},{"s":"mean","d":150,"v":-2.9},{"s":"mean","d":155,"v":-1.8},{"s":"mean","d":160,"v":-0.7},{"s":"mean","d":165,"v":0.3},{"s":"mean","d":170,"v":1.3},{"s":"mean","d":175,"v":2.2},{"s":"mean","d":180,"v":3.0},{"s":"mean","d":185,"v":3.5},{"s":"mean","d":190,"v":3.8},{"s":"mean","d":195,"v":4.0},{"s":"mean","d":200,"v":4.05},{"s":"mean","d":205,"v":4.05},{"s":"mean","d":210,"v":3.95},{"s":"mean","d":215,"v":3.75},{"s":"mean","d":220,"v":3.45},{"s":"mean","d":225,"v":3.1},{"s":"mean","d":230,"v":2.6},{"s":"mean","d":235,"v":1.95},{"s":"mean","d":240,"v":1.3},{"s":"mean","d":245,"v":0.75},{"s":"mean","d":250,"v":0.2},{"s":"mean","d":255,"v":-0.55},{"s":"mean","d":260,"v":-1.3},{"s":"mean","d":265,"v":-2.4},{"s":"mean","d":270,"v":-3.9},{"s":"mean","d":275,"v":-5.4},{"s":"mean","d":280,"v":-6.9},{"s":"mean","d":285,"v":-8.4},{"s":"mean","d":290,"v":-10.0},{"s":"mean","d":295,"v":-11.5},{"s":"mean","d":300,"v":-13.0},{"s":"mean","d":305,"v":-14.9},{"s":"mean","d":310,"v":-16.2},{"s":"mean","d":315,"v":-16.8},{"s":"mean","d":320,"v":-17.6},{"s":"mean","d":325,"v":-18.7},{"s":"mean","d":330,"v":-19.8},{"s":"mean","d":335,"v":-20.6},{"s":"mean","d":340,"v":-21.4},{"s":"mean","d":345,"v":-21.6},{"s":"mean","d":350,"v":-21.9},{"s":"mean","d":355,"v":-22.6},{"s":"mean","d":360,"v":-22.8},{"s":"mean","d":365,"v":-23.0},
{"s":"lower","d":0,"v":-27.1},{"s":"lower","d":5,"v":-27.3},{"s":"lower","d":10,"v":-27.6},{"s":"lower","d":15,"v":-28.6},{"s":"lower","d":20,"v":-28.8},{"s":"lower","d":25,"v":-28.4},{"s":"lower","d":30,"v":-28.8},{"s":"lower","d":35,"v":-29.2},{"s":"lower","d":40,"v":-29.3},{"s":"lower","d":45,"v":-28.9},{"s":"lower","d":50,"v":-28.3},{"s":"lower","d":55,"v":-27.6},{"s":"lower","d":60,"v":-27.5},{"s":"lower","d":65,"v":-26.9},{"s":"lower","d":70,"v":-26.0},{"s":"lower","d":75,"v":-25.1},{"s":"lower","d":80,"v":-24.3},{"s":"lower","d":85,"v":-24.0},{"s":"lower","d":90,"v":-24.7},{"s":"lower","d":95,"v":-23.6},{"s":"lower","d":100,"v":-21.0},{"s":"lower","d":105,"v":-18.7},{"s":"lower","d":110,"v":-16.3},{"s":"lower","d":115,"v":-14.7},{"s":"lower","d":120,"v":-13.2},{"s":"lower","d":125,"v":-11.9},{"s":"lower","d":130,"v":-10.4},{"s":"lower","d":135,"v":-8.8},{"s":"lower","d":140,"v":-7.5},{"s":"lower","d":145,"v":-6.2},{"s":"lower","d":150,"v":-4.9},{"s":"lower","d":155,"v":-3.6},{"s":"lower","d":160,"v":-2.3},{"s":"lower","d":165,"v":-0.9},{"s":"lower","d":170,"v":0.4},{"s":"lower","d":175,"v":1.5},{"s":"lower","d":180,"v":2.1},{"s":"lower","d":185,"v":2.45},{"s":"lower","d":190,"v":2.6},{"s":"lower","d":195,"v":2.7},{"s":"lower","d":200,"v":2.8},{"s":"lower","d":205,"v":2.9},{"s":"lower","d":210,"v":2.85},{"s":"lower","d":215,"v":2.7},{"s":"lower","d":220,"v":2.4},{"s":"lower","d":225,"v":2.1},{"s":"lower","d":230,"v":1.6},{"s":"lower","d":235,"v":0.8},{"s":"lower","d":240,"v":-0.2},{"s":"lower","d":245,"v":-0.8},{"s":"lower","d":250,"v":-1.45},{"s":"lower","d":255,"v":-2.2},{"s":"lower","d":260,"v":-3.2},{"s":"lower","d":265,"v":-5.0},{"s":"lower","d":270,"v":-6.7},{"s":"lower","d":275,"v":-8.0},{"s":"lower","d":280,"v":-9.3},{"s":"lower","d":285,"v":-10.9},{"s":"lower","d":290,"v":-12.6},{"s":"lower","d":295,"v":-14.2},{"s":"lower","d":300,"v":-16.2},{"s":"lower","d":305,"v":-17.9},{"s":"lower","d":310,"v":-19.6},{"s":"lower","d":315,"v":-21.0},{"s":"lower","d":320,"v":-22.8},{"s":"lower","d":325,"v":-23.8},{"s":"lower","d":330,"v":-24.0},{"s":"lower","d":335,"v":-24.05},{"s":"lower","d":340,"v":-24.6},{"s":"lower","d":345,"v":-25.1},{"s":"lower","d":350,"v":-25.5},{"s":"lower","d":355,"v":-26.0},{"s":"lower","d":360,"v":-26.6},{"s":"lower","d":365,"v":-27.1}
],
"y2022": [
{"d":0,"v":-22.5},{"d":2,"v":-21.0},{"d":5,"v":-20.3},{"d":6,"v":-21.2},{"d":9,"v":-20.0},{"d":11,"v":-20.3},{"d":14,"v":-22.0},{"d":17,"v":-20.5},{"d":20,"v":-20.3},{"d":24,"v":-17.5},{"d":28,"v":-20.0},{"d":30,"v":-21.5},{"d":32,"v":-20.7},{"d":35,"v":-21.2},{"d":37,"v":-22.4},{"d":41,"v":-20.0},{"d":44,"v":-19.7},{"d":47,"v":-20.3},{"d":50,"v":-21.0},{"d":52,"v":-20.7},{"d":54,"v":-20.3},{"d":57,"v":-17.2},{"d":58.5,"v":-16.7},{"d":61.5,"v":-17.9},{"d":65.5,"v":-19.2},{"d":68,"v":-18.1},{"d":71,"v":-17.2},{"d":73.5,"v":-15.4},{"d":75,"v":-15.3},{"d":77,"v":-15.8},{"d":79.5,"v":-18.6},{"d":82,"v":-18.4},{"d":85,"v":-16.9},{"d":89,"v":-16.4},{"d":92.5,"v":-16.3},{"d":96.5,"v":-15.9},{"d":99,"v":-16.0},{"d":101.5,"v":-14.6},{"d":105,"v":-13.2},{"d":110,"v":-12.2},{"d":113,"v":-12.8},{"d":116,"v":-11.0},{"d":118,"v":-9.9},{"d":121,"v":-9.4},{"d":124,"v":-8.0},{"d":129,"v":-7.0},{"d":133.5,"v":-5.6},{"d":137,"v":-4.9},{"d":141,"v":-3.0},{"d":144.5,"v":-2.0},{"d":148.5,"v":-1.6},{"d":152.5,"v":-0.7},{"d":156.5,"v":0.0},{"d":160.5,"v":0.8},{"d":164.5,"v":1.7},{"d":168.5,"v":2.2},{"d":172.5,"v":2.7},{"d":176.5,"v":2.45},{"d":180,"v":3.5},{"d":184,"v":3.75},{"d":189,"v":4.46},{"d":192,"v":4.7},{"d":195,"v":4.46},{"d":198.5,"v":4.7},{"d":200.5,"v":4.1},{"d":202.5,"v":4.94},{"d":205.5,"v":5.05},{"d":209.5,"v":4.8},{"d":214,"v":4.7},{"d":217.5,"v":4.8},{"d":220.5,"v":4.58},{"d":223.5,"v":4.1},{"d":227,"v":3.87},{"d":230.5,"v":3.4},{"d":234.5,"v":3.16},{"d":238.5,"v":2.45},{"d":242.5,"v":1.98},{"d":245,"v":2.33},{"d":248,"v":1.86},{"d":253,"v":1.39},{"d":256,"v":0.68},{"d":260,"v":-0.5},{"d":264.5,"v":-1.69},{"d":268.5,"v":-1.9},{"d":271.5,"v":-2.64},{"d":273.5,"v":-2.75},{"d":277,"v":-3.7},{"d":281,"v":-4.3},{"d":285,"v":-5.83},{"d":289,"v":-5.2},{"d":293,"v":-6.77},{"d":294,"v":-6.8},{"d":298,"v":-9.85},{"d":302.5,"v":-11.27},{"d":306.5,"v":-12.0},{"d":309.5,"v":-11.86},{"d":313.5,"v":-13.87},{"d":316.5,"v":-14.46},{"d":320,"v":-15.06},{"d":321,"v":-15.1},{"d":324.5,"v":-17.19},{"d":327.5,"v":-18.6},{"d":331,"v":-17.66},{"d":332.5,"v":-16.7},{"d":334,"v":-15.06},{"d":336.5,"v":-14.58},{"d":337.5,"v":-15.2},{"d":339,"v":-14.8},{"d":342,"v":-16.7},{"d":345,"v":-17.66},{"d":347.5,"v":-18.6},{"d":348.5,"v":-19.3},{"d":350.5,"v":-18.96},{"d":353,"v":-17.3},{"d":354.5,"v":-17.66},{"d":359.5,"v":-21.2},{"d":361.5,"v":-21.09},{"d":364,"v":-20.0},{"d":365,"v":-19.9}
],
"y2023": [
{"d":0,"v":-20.1},{"d":1.5,"v":-20.0},{"d":4,"v":-20.7},{"d":6,"v":-21.4},{"d":10,"v":-22.5},{"d":14,"v":-22.4},{"d":16.5,"v":-22.9},{"d":18,"v":-22.5},{"d":21.5,"v":-20.7},{"d":25,"v":-20.5},{"d":27,"v":-21.0},{"d":30,"v":-21.1},{"d":32,"v":-20.85},{"d":34,"v":-21.3},{"d":36,"v":-21.3},{"d":39.5,"v":-22.9},{"d":42,"v":-22.4},{"d":44,"v":-22.3},{"d":47,"v":-22.6},{"d":49,"v":-21.6},{"d":51.5,"v":-22.4},{"d":55,"v":-19.2},{"d":58.5,"v":-20.5},{"d":61.5,"v":-21.9},{"d":65.5,"v":-20.3},{"d":68.5,"v":-20.1},{"d":72,"v":-21.0},{"d":74,"v":-19.6},{"d":76.5,"v":-19.8},{"d":80,"v":-17.3},{"d":83,"v":-17.9},{"d":86,"v":-17.07},{"d":89,"v":-17.9},{"d":94,"v":-18.7},{"d":96.5,"v":-17.2},{"d":98,"v":-16.0},{"d":100.5,"v":-15.4},{"d":102,"v":-14.6},{"d":105.5,"v":-13.4},{"d":110,"v":-11.74},{"d":113,"v":-10.3},{"d":115.5,"v":-10.44},{"d":118,"v":-9.38},{"d":121,"v":-8.9},{"d":123.5,"v":-7.6},{"d":126.5,"v":-7.5},{"d":132,"v":-7.0},{"d":137,"v":-4.65},{"d":140,"v":-3.46},{"d":143,"v":-2.5},{"d":146.5,"v":-1.8},{"d":151,"v":-0.62},{"d":155,"v":0.08},{"d":159,"v":0.44},{"d":164.5,"v":1.27},{"d":168.5,"v":1.5},{"d":172.5,"v":2.69},{"d":176.5,"v":3.64},{"d":179.5,"v":3.75},{"d":183.5,"v":3.75},{"d":187.5,"v":4.35},{"d":190.5,"v":3.87},{"d":193.5,"v":4.7},{"d":197,"v":5.29},{"d":200,"v":5.05},{"d":202.5,"v":5.41},{"d":205.5,"v":5.29},{"d":208,"v":6.0},{"d":211,"v":5.53},{"d":214,"v":5.17},{"d":216.5,"v":5.17},{"d":219.5,"v":5.76},{"d":222,"v":5.41},{"d":223.5,"v":4.94},{"d":226,"v":4.7},{"d":228.5,"v":4.0},{"d":231.5,"v":3.4},{"d":234.5,"v":3.52},{"d":236.5,"v":3.87}
],
"labels": [
{"yr":"2023","d":130.1,"v":3.75},
{"yr":"2022","d":284.1,"v":1.74}
]
},
"layer": [
{
 "data": {"name": "grey"},
 "mark": {"type": "line", "color": "#bdbdbd", "strokeWidth": 1},
 "encoding": {
  "x": {"field": "d", "type": "quantitative", "scale": {"domain": [0, 365], "nice": false, "zero": false},
   "axis": {"values": [0,31,59,90,120,151,181,212,243,273,304,334], "labelExpr": "timeFormat(datetime(2023,0,1+datum.value),'%b %-d')", "labelAlign": "left", "labelOffset": 2, "labelPadding": 13, "labelFlush": false, "labelOverlap": false, "title": null}},
  "y": {"field": "v", "type": "quantitative", "scale": {"domain": [-36, 8], "nice": false, "zero": false},
   "axis": {"values": [-36,-30,-24,-18,-12,-6,0,6], "labelPadding": 21, "labelOffset": -2, "title": "Temperature (°C)", "titleFont": "DejaVu Sans", "titleFontSize": 27, "titleFontWeight": "normal", "titleColor": "#333333", "titleX": -74.5, "titleY": 296, "titleAngle": -90, "titleAlign": "center", "titleBaseline": "alphabetic"}},
  "detail": {"field": "s", "type": "nominal"}
 }
},
{
 "data": {"name": "clim"},
 "mark": {"type": "line", "color": "#2e2e2e", "strokeWidth": 2.6, "strokeDash": [9, 6]},
 "encoding": {
  "x": {"field": "d", "type": "quantitative"},
  "y": {"field": "v", "type": "quantitative"},
  "detail": {"field": "s", "type": "nominal"}
 }
},
{
 "data": {"name": "y2022"},
 "mark": {"type": "line", "color": "#ff8000", "strokeWidth": 2.6},
 "encoding": {
  "x": {"field": "d", "type": "quantitative"},
  "y": {"field": "v", "type": "quantitative"}
 }
},
{
 "data": {"name": "y2023"},
 "mark": {"type": "line", "color": "#000000", "strokeWidth": 3.8},
 "encoding": {
  "x": {"field": "d", "type": "quantitative"},
  "y": {"field": "v", "type": "quantitative"}
 }
},
{
 "data": {"name": "labels"},
 "mark": {"type": "text", "font": "Liberation Sans", "fontSize": 31, "align": "center", "baseline": "alphabetic"},
 "encoding": {
  "x": {"field": "d", "type": "quantitative"},
  "y": {"field": "v", "type": "quantitative"},
  "text": {"field": "yr", "type": "nominal"},
  "color": {"field": "yr", "type": "nominal", "scale": {"domain": ["2022", "2023"], "range": ["#ff8000", "#000000"]}, "legend": null}
 }
}
]
}
